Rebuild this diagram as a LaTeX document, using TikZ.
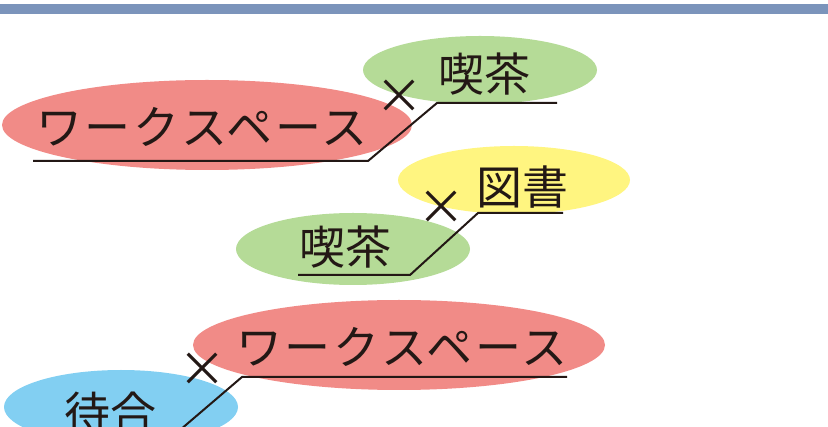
\documentclass[tikz,border=0pt]{standalone}
\usepackage{fontspec}
\newfontfamily\jp{Noto Sans CJK JP}
\newfontfamily\jpwide{Noto Sans CJK JP}[LetterSpace=6]
\usetikzlibrary{shapes.geometric}
\definecolor{ink}{RGB}{35,24,21}
\definecolor{barblue}{RGB}{123,148,187}
\definecolor{redfill}{RGB}{241,139,135}
\definecolor{greenfill}{RGB}{181,219,151}
\definecolor{yellowfill}{RGB}{255,245,128}
\definecolor{bluefill}{RGB}{130,207,242}
\tikzset{
  word/.style={inner sep=0pt, anchor=west, text=ink, font=\jp\fontsize{46}{46}\selectfont},
  longword/.style={word, font=\jpwide\fontsize{46}{46}\selectfont},
  cross/.style={inner sep=0pt, text=ink, font=\jp\fontsize{48}{48}\selectfont},
  uline/.style={draw=ink, line width=2pt, line join=miter},
}
\begin{document}
\begin{tikzpicture}[x=1pt,y=-1pt]
\useasboundingbox (0,0) rectangle (828,427);
\clip (0,0) rectangle (828,427);
\fill[barblue] (0,4) rectangle (828,14);
% ellipses
\fill[greenfill] (480,70) ellipse [x radius=117pt, y radius=34pt];
\fill[redfill] (207,125) ellipse [x radius=205pt, y radius=45pt];
\fill[yellowfill] (514,180) ellipse [x radius=116pt, y radius=34pt];
\fill[greenfill] (353,249) ellipse [x radius=117pt, y radius=36pt];
\fill[redfill] (399,345) ellipse [x radius=206pt, y radius=45pt];
\fill[bluefill] (121,407) ellipse [x radius=117pt, y radius=37pt];
% words
\node[longword] (w1) at (36,127) {ワークスペース};
\node[word] (k1) at (438,74) {喫茶};
\node[word] (t1) at (476,187) {図書};
\node[word] (k2) at (299,247) {喫茶};
\node[longword] (w2) at (236,347) {ワークスペース};
\node[word] (m1) at (64,413) {待合};
% crosses
\node[cross] (x1) at (399,97) {×};
\node[cross] (x2) at (441,208) {×};
\node[cross] (x3) at (202,370) {×};
% underlines
\coordinate (a1) at (33,161);
\coordinate (a2) at (368,161);
\coordinate (a3) at (437,103);
\coordinate (a4) at (557,103);
\draw[uline] (a1) -- (a2) -- (a3) -- (a4);
\coordinate (b1) at (563,213);
\coordinate (b2) at (478,213);
\coordinate (b3) at (410,275);
\coordinate (b4) at (298,275);
\draw[uline] (b1) -- (b2) -- (b3) -- (b4);
\coordinate (c1) at (567,377);
\coordinate (c2) at (242,377);
\coordinate (c3) at (180,430);
\draw[uline] (c1) -- (c2) -- (c3);
\end{tikzpicture}
\end{document}
